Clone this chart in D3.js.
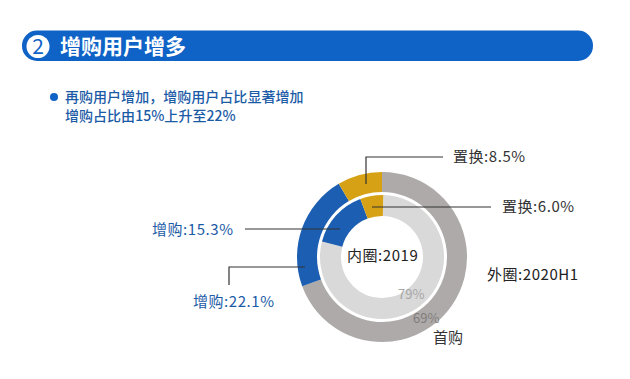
<!DOCTYPE html>
<html><head><meta charset="utf-8">
<script src="https://cdn.jsdelivr.net/npm/d3@7"></script>
<style>html,body{margin:0;padding:0;background:#fff}svg{display:block}text{font-family:"Noto Sans CJK SC","Noto Sans",sans-serif}</style>
</head><body><svg id="c" width="630" height="379"></svg>
<script>
const categories = ["首购", "增购", "置换"];
const outerValues = [69.4, 22.1, 8.5];
const innerValues = [78.7, 15.3, 6.0];
const outerColors = ["#aeaaa9", "#1c5fb2", "#d6a114"];
const innerColors = ["#d9d9d9", "#1c5fb2", "#d6a114"];
const titleText = "增购用户增多";
const bulletLines = ["再购用户增加，增购用户占比显著增加", "增购占比由15%上升至22%"];

const svg = d3.select("#c");
const blue = "#0f62c6", textBlue = "#1b5ba6";
svg.append("rect").attr("x",22).attr("y",30.5).attr("width",571).attr("height",30.5).attr("rx",15).attr("fill",blue);
svg.append("circle").attr("cx",38).attr("cy",46.5).attr("r",11.5).attr("fill","#fff");
svg.append("text").attr("x",38).attr("y",54).attr("text-anchor","middle").attr("font-size",21).attr("fill",blue).text("2");
svg.append("text").attr("x",60).attr("y",53.5).attr("font-size",21).attr("font-weight",700).attr("fill","#fff").text(titleText);
svg.append("circle").attr("cx",54).attr("cy",97).attr("r",4).attr("fill",blue);
bulletLines.forEach((t,i)=>svg.append("text").attr("x",65).attr("y",102+i*19).attr("font-size",14).attr("font-weight",500).attr("fill",textBlue).attr("letter-spacing",0.03).text(t));

const g = svg.append("g").attr("transform","translate(382,257)");
const pie = d3.pie().sort(null).value(d=>d);
const ring = (vals,cols,r0,r1,offset)=>{
  const arc = d3.arc().innerRadius(r0).outerRadius(r1);
  g.append("g").selectAll("path").data(pie.startAngle(offset).endAngle(offset+2*Math.PI)(vals)).join("path")
    .attr("d",arc).attr("fill",(d,i)=>cols[i]);
};
ring(outerValues,outerColors,65,85,0);
ring(innerValues,innerColors,41,62,0.02);

const leaders = [
  [[366,184],[366,157],[443,157]],
  [[372,207],[491,207]],
  [[245,229],[340,229]],
  [[229,285],[229,267],[305,267]]
];
const line = d3.line();
svg.append("g").selectAll("path").data(leaders).join("path").attr("d",line).attr("fill","none").attr("stroke","#333").attr("stroke-width",1.2);

const labels = [
  [453,162,"置换:8.5%","#333",15,0.55],
  [502,212,"置换:6.0%","#333",15,0.55],
  [152,235,"增购:15.3%",textBlue,15,0.55],
  [193,307,"增购:22.1%",textBlue,15,0.55],
  [347,261,"内圈:2019","#222",15,0.55],
  [487,280,"外圈:2020H1","#222",15,0.55],
  [433,343,categories[0],"#333",15,0],
  [398,299,"79%","#a6a6a6",13,0],
  [413,323,"69%","#807d7c",13,0]
];
svg.append("g").selectAll("text").data(labels).join("text")
  .attr("x",d=>d[0]).attr("y",d=>d[1]).attr("fill",d=>d[3]).attr("font-size",d=>d[4]).attr("letter-spacing",d=>d[5]).text(d=>d[2]);
</script></body></html>
